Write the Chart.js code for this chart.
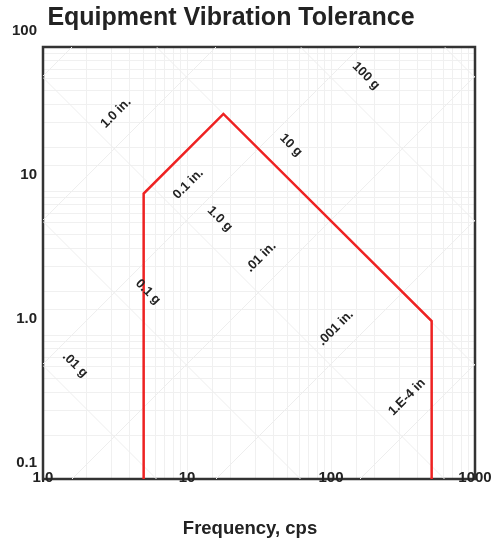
<!DOCTYPE html>
<html>
<head>
<meta charset="utf-8">
<title>Equipment Vibration Tolerance</title>
<script src="https://cdn.jsdelivr.net/npm/chart.js@4.4.1/dist/chart.umd.min.js"></script>
<style>
  html, body { margin: 0; padding: 0; background: #fff; }
</style>
</head>
<body>
<canvas id="vibChart" width="500" height="548"></canvas>
<script>
// tolerance envelope (frequency in cps, velocity in in/s)
const freq = [5, 5, 17.9, 500, 500];
const velocity = [0.1, 9.6, 34.3, 1.25, 0.1];

// tick labels
const xTickValues = [1, 10, 100, 1000];
const xTickText = ["1.0", "10", "100", "1000"];
const yTickValues = [0.1, 1, 10, 100];
const yTickText = ["0.1", "1.0", "10", "100"];

// faint diagonal guide lines: [f1, v1, f2, v2]
const inchLines = [
  [1, 62.8, 1.59, 100],
  [1, 6.28, 15.9, 100],
  [1, 0.628, 159, 100],
  [1.59, 0.1, 1000, 62.8],
  [15.9, 0.1, 1000, 6.28],
  [159, 0.1, 1000, 0.628]
];
const gLines = [
  [1, 0.614, 6.14, 0.1],
  [1, 6.14, 61.4, 0.1],
  [1, 61.4, 614, 0.1],
  [6.14, 100, 1000, 0.614],
  [61.4, 100, 1000, 6.14],
  [614, 100, 1000, 61.4]
];

// diagonal labels
const noteText = ["1.0 in.", "0.1 in.", ".01 in.", ".001 in.", "1.E-4 in", "100 g", "10 g", "1.0 g", "0.1 g", ".01 g"];
const noteFreq = [3.21, 10.2, 32.6, 108, 337, 175, 52.7, 16.9, 5.36, 1.67];
const noteVel = [34.8, 11.2, 3.48, 1.12, 0.37, 63, 20.8, 6.4, 1.99, 0.62];
const noteAngle = [-45, -45, -45, -45, -45, 45, 45, 45, 45, 45];

const FONT = "'Liberation Sans', Arial, sans-serif";

function pickLabel(values, texts, v) {
  const i = values.findIndex((t) => Math.abs(Math.log10(t) - Math.log10(v)) < 1e-6);
  return i >= 0 ? texts[i] : "";
}

const guideSets = inchLines.concat(gLines).map((l) => ({
  data: [{ x: l[0], y: l[1] }, { x: l[2], y: l[3] }],
  borderColor: "#eeeeee",
  borderWidth: 1,
  pointRadius: 0,
  fill: false,
}));

const framePlugin = {
  id: "frame",
  beforeDatasetsDraw(chart) {
    const { ctx, chartArea } = chart;
    ctx.save();
    ctx.strokeStyle = "#333";
    ctx.lineWidth = 2.5;
    ctx.strokeRect(chartArea.left, chartArea.top, chartArea.right - chartArea.left, chartArea.bottom - chartArea.top);
    ctx.restore();
  },
  afterDraw(chart) {
    const { ctx, chartArea } = chart;
    const xs = chart.scales.x;
    const ys = chart.scales.y;
    ctx.save();
    ctx.fillStyle = "#222";
    ctx.textAlign = "center";
    ctx.textBaseline = "middle";
    // diagonal labels
    ctx.font = "bold 13px " + FONT;
    noteText.forEach((t, i) => {
      ctx.save();
      ctx.translate(xs.getPixelForValue(noteFreq[i]), ys.getPixelForValue(noteVel[i]));
      ctx.rotate((noteAngle[i] * Math.PI) / 180);
      ctx.fillText(t, 0, 0);
      ctx.restore();
    });
    // x tick labels sit on the axis line
    ctx.font = "bold 15px " + FONT;
    xTickValues.forEach((v, i) => {
      ctx.fillText(xTickText[i], xs.getPixelForValue(v), chartArea.bottom - 1);
    });
    // titles
    ctx.font = "bold 25px " + FONT;
    ctx.fillText("Equipment Vibration Tolerance", 231, 18);
    ctx.font = "bold 18.5px " + FONT;
    ctx.fillText("Frequency, cps", 250, 529);
    ctx.restore();
  },
};

const ctx = document.getElementById("vibChart").getContext("2d");
let vibChart = new Chart(ctx, {
  type: "line",
  data: {
    datasets: [
      {
        data: freq.map((f, i) => ({ x: f, y: velocity[i] })),
        borderColor: "#ee2222",
        borderWidth: 2.5,
        pointRadius: 0,
        fill: false,
        tension: 0,
      },
    ].concat(guideSets),
  },
  options: {
    responsive: false,
    animation: false,
    layout: { padding: { top: 47, right: 25, left: 0, bottom: 0 } },
    plugins: {
      legend: { display: false },
      tooltip: { enabled: false },
    },
    scales: {
      x: {
        type: "logarithmic",
        min: 1,
        max: 1000,
        border: { display: false },
        grid: { color: "#f0f0f0", drawTicks: false },
        ticks: { display: false, autoSkip: false },
        afterFit: (scale) => { scale.height = 69; },
      },
      y: {
        type: "logarithmic",
        min: 0.1,
        max: 100,
        border: { display: false },
        grid: { color: "#f0f0f0", drawTicks: false },
        ticks: {
          autoSkip: false,
          padding: 6,
          labelOffset: -16,
          color: "#222",
          font: { family: FONT, size: 15, weight: "bold" },
          callback: (v) => pickLabel(yTickValues, yTickText, v),
        },
        afterFit: (scale) => { scale.width = 43; },
      },
    },
  },
  plugins: [framePlugin],
});
</script>
</body>
</html>
